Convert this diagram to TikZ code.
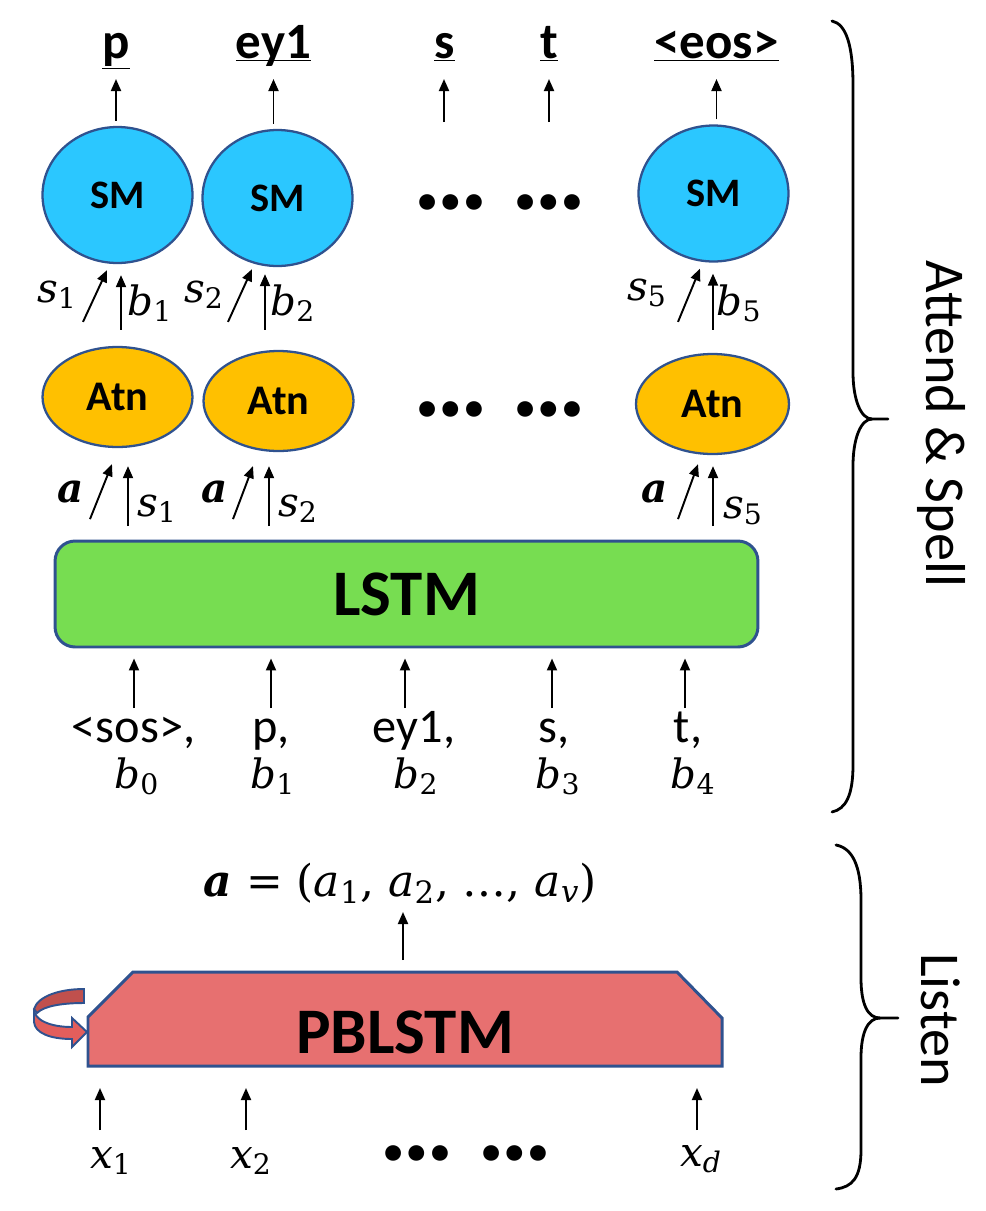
\documentclass[tikz,border=0pt]{standalone}
\usepackage[no-math]{fontspec}
\setmainfont{Carlito}
\newfontfamily\mfont{DejaVu Serif}
\usetikzlibrary{shapes.geometric,arrows.meta}

\definecolor{smblue}{RGB}{43,199,255}
\definecolor{atnorange}{RGB}{255,192,0}
\definecolor{lstmgreen}{RGB}{119,221,81}
\definecolor{pbred}{RGB}{231,112,112}
\definecolor{edgeblue}{RGB}{47,82,143}
\definecolor{loopdark}{RGB}{192,80,77}
\definecolor{looplight}{RGB}{226,94,92}

\newcommand{\flatul}[1]{\underline{\raisebox{0pt}[\height][0pt]{#1}}}
\newcommand{\mv}[2]{{\itshape #1}\textsubscript{#2}}
\newcommand{\bv}[1]{{\bfseries\itshape #1}}

\begin{document}
\begin{tikzpicture}[x=0.02cm, y=-0.02cm,
	arr/.style={-{Triangle[length=2.4mm,width=2mm]}, line width=1.1pt},
	blob/.style={ellipse, draw=edgeblue, line width=1.3pt, minimum width=3cm, inner sep=0pt},
	smnode/.style={blob, fill=smblue, minimum height=2.72cm, font=\fontsize{23}{26}\selectfont\bfseries},
	atnnode/.style={blob, fill=atnorange, minimum height=2cm, font=\fontsize{24}{28}\selectfont\bfseries},
	outlbl/.style={anchor=base, inner sep=0pt, font=\fontsize{29}{32}\selectfont\bfseries},
	inlbl/.style={anchor=base, inner sep=0pt, font=\fontsize{27.5}{30}\selectfont},
	mathlbl/.style={anchor=base, inner sep=0pt, font=\fontsize{23}{28}\selectfont\mfont},
	dotrow/.style={anchor=base, inner sep=0pt, font=\fontsize{60}{60}\selectfont\bfseries},
	bigtxt/.style={inner sep=0pt, font=\fontsize{37}{40}\selectfont\bfseries},
	brace/.style={line width=1.6pt, line cap=round},
	side/.style={rotate=-90, inner sep=0pt, font=\fontsize{32}{36}\selectfont}]
	\useasboundingbox (0,0) rectangle (986,1211);

	% Attend & Spell
		% Salidas
			\node[outlbl] (op) at (116,58) {\underline{p}};
			\node[outlbl] (oey) at (273.5,58) {\flatul{ey1}};
			\node[outlbl] (os) at (444.5,58) {\underline{s}};
			\node[outlbl] (ot) at (549,58) {\underline{t}};
			\node[outlbl] (oeos) at (716.5,58) {\underline{<eos>}};
			\coordinate (toprow) at (0,79);
			\coordinate (ins) at (444,122);
			\coordinate (int) at (549,122);
		% SM
			\node[smnode] (sm1) at (117.5,195) {SM};
			\node[smnode] (sm2) at (277.5,198) {SM};
			\node[smnode] (sm3) at (713.5,193.5) {SM};
			\node[dotrow] (dtop) at (500,209) {… …};
			\draw[arr, shorten <=1mm] (sm1.north -| op) -- (op |- toprow);
			\draw[arr, shorten <=1mm] (sm2.north -| oey) -- (oey |- toprow);
			\draw[arr] (ins) -- (ins |- toprow);
			\draw[arr] (int) -- (int |- toprow);
			\draw[arr, shorten <=1mm] (sm3.north -| oeos) -- (oeos |- toprow);
		% Atn
			\node[atnnode] (atn1) at (117.5,397) {Atn};
			\node[atnnode] (atn2) at (278.5,401) {Atn};
			\node[atnnode, minimum width=3.06cm] (atn3) at (712.5,404) {Atn};
			\node[dotrow] (dmid) at (500,416) {… …};
		% Atn -> SM
			\draw[arr] ([shift={(-34.5,-24)}]atn1.north) -- ([shift={(-10.5,6)}]sm1.south);
			\draw[arr] ([shift={(3.5,-16)}]atn1.north) -- ([shift={(3.5,11)}]sm1.south);
			\draw[arr] ([shift={(-50.5,-28)}]atn2.north) -- ([shift={(-25.5,2)}]sm2.south);
			\draw[arr] ([shift={(-13.5,-20)}]atn2.north) -- ([shift={(-12.5,7)}]sm2.south);
			\draw[arr] ([shift={(-34.5,-31)}]atn3.north) -- ([shift={(-13.5,6)}]sm3.south);
			\draw[arr] ([shift={(0.5,-23)}]atn3.north) -- ([shift={(-0.5,11)}]sm3.south);
			\node[mathlbl] (su1) at (57,302) {\mv{s}{1}};
			\node[mathlbl] (bu1) at (150,315) {\mv{b}{1}};
			\node[mathlbl] (su2) at (204,302) {\mv{s}{2}};
			\node[mathlbl] (bu2) at (293,315) {\mv{b}{2}};
			\node[mathlbl] (su5) at (647,300) {\mv{s}{5}};
			\node[mathlbl] (bu5) at (739,315) {\mv{b}{5}};
		% LSTM -> Atn
			\draw[arr] ([shift={(-27.5,71)}]atn1.south) -- ([shift={(-5.5,16)}]atn1.south);
			\draw[arr] ([shift={(10.5,78)}]atn1.south) -- ([shift={(10.5,18)}]atn1.south);
			\draw[arr] ([shift={(-45.5,67)}]atn2.south) -- ([shift={(-25.5,14)}]atn2.south);
			\draw[arr] ([shift={(-9.5,74)}]atn2.south) -- ([shift={(-9.5,14)}]atn2.south);
			\draw[arr] ([shift={(-34.5,64)}]atn3.south) -- ([shift={(-14.5,9)}]atn3.south);
			\draw[arr] ([shift={(0.5,71)}]atn3.south) -- ([shift={(0.5,11)}]atn3.south);
			\node[mathlbl] (ca1) at (71,502) {\bv{a}};
			\node[mathlbl] (sl1) at (157,516) {\mv{s}{1}};
			\node[mathlbl] (ca2) at (215,502) {\bv{a}};
			\node[mathlbl] (sl2) at (298,516) {\mv{s}{2}};
			\node[mathlbl] (ca3) at (655,502) {\bv{a}};
			\node[mathlbl] (sl5) at (743,518) {\mv{s}{5}};
		% LSTM
			\node[draw=edgeblue, line width=1.7pt, fill=lstmgreen, rounded corners=4mm, minimum width=14.06cm, minimum height=2.12cm, font=\fontsize{37}{40}\selectfont\bfseries] (lstm) at (406.5,594) {LSTM};
		% Entradas
			\node[inlbl] (isos) at (133.5,742) {<sos>,};
			\node[inlbl] (ip) at (271,742) {p,};
			\node[inlbl] (iey) at (414,742) {ey1,};
			\node[inlbl] (is) at (554,742) {s,};
			\node[inlbl] (it) at (688,742) {t,};
			\node[mathlbl] (b0) at (137,788) {\mv{b}{0}};
			\node[mathlbl] (b1) at (273,788) {\mv{b}{1}};
			\node[mathlbl] (b2) at (416,788) {\mv{b}{2}};
			\node[mathlbl] (b3) at (558,788) {\mv{b}{3}};
			\node[mathlbl] (b4) at (693,788) {\mv{b}{4}};
			\coordinate (in0) at (134,708);
			\coordinate (in1) at (271,708);
			\coordinate (in2) at (405,708);
			\coordinate (in3) at (552,708);
			\coordinate (in4) at (685,708);
			\draw[arr, shorten >=2mm] (in0) -- (in0 |- lstm.south);
			\draw[arr, shorten >=2mm] (in1) -- (in1 |- lstm.south);
			\draw[arr, shorten >=2mm] (in2) -- (in2 |- lstm.south);
			\draw[arr, shorten >=2mm] (in3) -- (in3 |- lstm.south);
			\draw[arr, shorten >=2mm] (in4) -- (in4 |- lstm.south);
		% Llave
			\draw[brace] (832,21) .. controls (846,24) and (853,45) .. (853,85) -- (853,372) .. controls (853,400) and (861,419) .. (872,419) -- (888,419);
			\draw[brace] (872,419) .. controls (861,419) and (853,438) .. (853,466) -- (853,765) .. controls (853,795) and (846,809) .. (832,812);
			\node[side] (attend) at (941,424) {Attend \& Spell};

	% Listen
		% Salida
			\node[mathlbl, font=\fontsize{25}{30}\selectfont\mfont] (aeq) at (400,896) {\bv{a} = (\mv{a}{1}, \mv{a}{2}, …, \mv{a}{\itshape v})};
			\coordinate (aout) at (403,960);
			\coordinate (atip) at (403,912);
			\draw[arr] (aout) -- (atip);
		% PBLSTM
			\draw[edgeblue, line width=1.7pt, fill=pbred] (88,1017) -- (133,972) -- (677,972) -- (722,1018) -- (722,1066) -- (88,1066) -- cycle;
			\coordinate (pbbot) at (0,1066);
			\node[bigtxt] (pb) at (405,1032) {PBLSTM};
		% Bucle
			\draw[edgeblue, line width=1.1pt, fill=loopdark] (84,989) -- (84,1003) .. controls (62,1003) and (44,1006) .. (37,1013) -- (34,1009) .. controls (38,996) and (60,989) .. (84,989) -- cycle;
			\draw[edgeblue, line width=1.1pt, fill=looplight] (34,1009) .. controls (34,1020) and (50,1027) .. (72,1027) -- (72,1018) -- (87,1032) -- (72,1047) -- (72,1039) .. controls (50,1039) and (35,1033) .. (34,1022) -- cycle;
		% Entradas
			\node[mathlbl] (x1) at (111,1168) {\mv{x}{1}};
			\node[mathlbl] (x2) at (251,1168) {\mv{x}{2}};
			\node[mathlbl] (xd) at (701,1166) {\mv{x}{\itshape d}};
			\node[dotrow] (dbot) at (466,1160) {… …};
			\coordinate (xin1) at (100,1130);
			\coordinate (xin2) at (246,1130);
			\coordinate (xind) at (697,1130);
			\draw[arr, shorten >=4.4mm] (xin1) -- (xin1 |- pbbot);
			\draw[arr, shorten >=4.4mm] (xin2) -- (xin2 |- pbbot);
			\draw[arr, shorten >=4.4mm] (xind) -- (xind |- pbbot);
		% Llave
			\draw[brace] (836,845) .. controls (852,848) and (861,865) .. (861,900) -- (861,978) .. controls (861,1005) and (868,1018) .. (880,1018) -- (898,1018);
			\draw[brace] (880,1018) .. controls (868,1018) and (861,1032) .. (861,1058) -- (861,1150) .. controls (861,1178) and (852,1187) .. (836,1189);
			\node[side] (listen) at (941,1020) {Listen};
\end{tikzpicture}
\end{document}
